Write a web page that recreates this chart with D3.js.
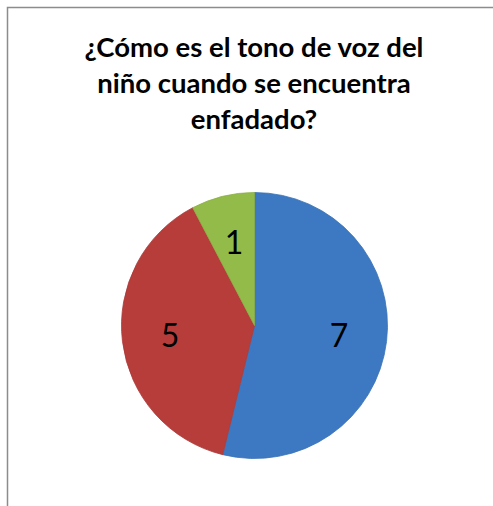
<!DOCTYPE html>
<html>
<head>
<meta charset="utf-8">
<script src="https://cdn.jsdelivr.net/npm/d3@7"></script>
<style>
  body { margin: 0; background: #fff; }
</style>
</head>
<body>
<div id="chart"></div>
<script>
let w = 493;
let h = 506;

// data
const titleLines = ["¿Cómo es el tono de voz del", "niño cuando se encuentra", "enfadado?"];
const categories = ["A", "B", "C"];
const values = [7, 5, 1];
const colors = ["#4282d0", "#c4423f", "#9ec94e"];

let svg = d3.select("#chart")
    .append("svg")
    .attr("width", w)
    .attr("height", h);

// chart frame (runs off the right / bottom edge)
svg.append("rect")
    .attr("x", 7.5)
    .attr("y", 7.5)
    .attr("width", 520)
    .attr("height", 520)
    .attr("fill", "#fff")
    .attr("stroke", "#8c8c8c")
    .attr("stroke-width", 1.5);

// title
let title = svg.append("g")
    .attr("font-family", "Lato, 'Open Sans', sans-serif")
    .attr("font-weight", "bold")
    .attr("font-size", 25)
    .attr("fill", "#000")
    .attr("text-anchor", "middle");

title.selectAll("text")
    .data(titleLines)
    .enter()
    .append("text")
    .attr("x", 254)
    .attr("y", (d, i) => 57 + i * 36)
    .text(d => d);

// fit first line to ~339px like the original
let len = title.select("text").node().getComputedTextLength();
title.attr("font-size", 25 * 339 / len);

const cx = 254.5, cy = 325.5, r = 133;

let defs = svg.append("defs");
let grads = defs.selectAll("radialGradient")
    .data(colors)
    .enter()
    .append("radialGradient")
    .attr("id", (d, i) => "g" + i)
    .attr("gradientUnits", "userSpaceOnUse")
    .attr("cx", cx).attr("cy", cy).attr("r", r);
grads.append("stop").attr("offset", "0%").attr("stop-color", d => d);
grads.append("stop").attr("offset", "92%").attr("stop-color", d => d);
grads.append("stop").attr("offset", "97%").attr("stop-color", d => d3.color(d).brighter(0.25));
grads.append("stop").attr("offset", "100%").attr("stop-color", d => d3.color(d).darker(0.2));

let pie = d3.pie().sort(null).value(d => d);
let arc = d3.arc().innerRadius(0).outerRadius(r);
let labelArc = d3.arc().innerRadius(r * 0.64).outerRadius(r * 0.64);

let g = svg.append("g").attr("transform", `translate(${cx},${cy})`);

g.selectAll("path")
    .data(pie(values))
    .enter()
    .append("path")
    .attr("d", arc)
    .attr("fill", (d, i) => `url(#g${i})`)
    .attr("stroke", (d, i) => d3.color(colors[i]).darker(0.4))
    .attr("stroke-width", 0.8);

g.selectAll("text")
    .data(pie(values))
    .enter()
    .append("text")
    .attr("transform", d => `translate(${labelArc.centroid(d)})`)
    .attr("text-anchor", "middle")
    .attr("dy", "0.35em")
    .attr("font-family", "Lato, 'Open Sans', sans-serif")
    .attr("font-size", 32)
    .attr("fill", "#000")
    .text(d => d.data);
</script>
</body>
</html>
